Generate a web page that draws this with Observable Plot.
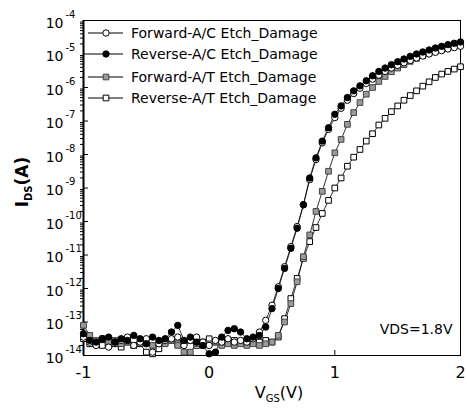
<!DOCTYPE html>
<html><head><meta charset="utf-8">
<script src="https://cdn.jsdelivr.net/npm/d3@7"></script>
<script src="https://cdn.jsdelivr.net/npm/@observablehq/plot@0.6"></script>
<style>
body{margin:0;background:#fff;}
#chart{position:relative;width:467px;height:409px;}
</style></head><body><div id="chart"></div>
<script>
// Gate voltage (V)
const vgs = [-1,-0.95,-0.9,-0.85,-0.8,-0.75,-0.7,-0.65,-0.6,-0.55,-0.5,-0.45,-0.4,-0.35,-0.3,-0.25,-0.2,-0.15,-0.1,-0.05,
  0,0.05,0.1,0.15,0.2,0.25,0.3,0.35,0.4,0.45,0.5,0.55,0.6,0.65,0.7,0.75,0.8,0.85,0.9,0.95,
  1,1.05,1.1,1.15,1.2,1.25,1.3,1.35,1.4,1.45,1.5,1.55,1.6,1.65,1.7,1.75,1.8,1.85,1.9,1.95,2];

const seriesNames = ["Forward-A/C Etch_Damage","Reverse-A/C Etch_Damage","Forward-A/T Etch_Damage","Reverse-A/T Etch_Damage"];

// log10 of drain current I_DS (A)
const log10I_forwardAC = [-13.45,-13.6,-13.7,-13.5,-13.75,-13.6,-13.55,-13.45,-13.7,-13.6,-13.5,-13.9,-13.65,-13.55,-13.5,-13.45,-13.7,-13.55,-13.45,-13.6,
  -13.7,-13.55,-13.6,-13.5,-13.6,-13.55,-13.6,-13.5,-13.3,-12.95,-12.5,-11.95,-11.35,-10.75,-10.15,-9.5,-8.75,-8.15,-7.65,-7.25,
  -6.9,-6.62,-6.38,-6.18,-6.02,-5.88,-5.75,-5.63,-5.52,-5.42,-5.34,-5.26,-5.19,-5.12,-5.06,-5.0,-4.95,-4.9,-4.85,-4.81,-4.77];
const log10I_reverseAC = [-13.35,-13.55,-13.6,-13.5,-13.45,-13.6,-13.5,-13.55,-13.4,-13.5,-13.65,-13.45,-13.55,-13.5,-13.3,-13.1,-13.55,-13.45,-13.6,-13.7,
  -13.95,-13.9,-13.45,-13.25,-13.2,-13.3,-13.5,-13.45,-13.4,-13.15,-12.6,-12.0,-11.4,-10.8,-10.2,-9.5,-8.7,-8.1,-7.6,-7.2,
  -6.8,-6.55,-6.3,-6.1,-5.95,-5.8,-5.65,-5.52,-5.42,-5.32,-5.23,-5.15,-5.07,-5.0,-4.94,-4.88,-4.82,-4.77,-4.72,-4.68,-4.64];
const log10I_forwardAT = [-13.1,-13.4,-13.55,-13.5,-13.6,-13.55,-13.65,-13.6,-13.7,-13.6,-13.55,-13.7,-13.6,-13.65,-13.55,-13.7,-13.9,-13.9,-13.65,-13.7,
  -13.65,-13.6,-13.7,-13.65,-13.7,-13.65,-13.7,-13.65,-13.7,-13.65,-13.6,-13.4,-13.0,-12.45,-11.8,-11.05,-10.4,-9.7,-9.1,-8.5,
  -7.95,-7.55,-7.1,-6.75,-6.45,-6.2,-6.0,-5.82,-5.67,-5.53,-5.42,-5.32,-5.22,-5.13,-5.05,-4.98,-4.92,-4.86,-4.81,-4.76,-4.72];
const log10I_reverseAT = [-13.5,-13.65,-13.6,-13.7,-13.55,-13.65,-13.75,-13.6,-13.7,-13.65,-13.9,-13.95,-13.8,-13.6,-13.55,-13.65,-13.6,-13.55,-13.7,-13.6,
  -13.5,-13.6,-13.55,-13.6,-13.55,-13.6,-13.65,-13.5,-13.6,-13.55,-13.6,-13.45,-12.9,-12.3,-11.7,-11.1,-10.6,-10.18,-9.76,-9.37,
  -9.0,-8.7,-8.35,-8.08,-7.85,-7.6,-7.38,-7.12,-6.92,-6.72,-6.55,-6.38,-6.24,-6.1,-5.96,-5.83,-5.7,-5.6,-5.52,-5.45,-5.38];

const yTickExponents = [-4,-5,-6,-7,-8,-9,-10,-11,-12,-13,-14];
const xTickValues = [-1,0,1,2];
const annotationText = "VDS=1.8V";

const seriesArrays = [log10I_forwardAC, log10I_reverseAC, log10I_forwardAT, log10I_reverseAT];
const rows = [];
seriesArrays.forEach((arr, s) => arr.forEach((e, i) => rows.push({series: seriesNames[s], v: vgs[i], current: Math.pow(10, e)})));

const styles = [
  {symbol: "circle", fill: "white", stroke: "black"},
  {symbol: "circle", fill: "black", stroke: "black"},
  {symbol: "square", fill: "#9a9a9a", stroke: "#444"},
  {symbol: "square", fill: "white", stroke: "black"}
];
const font = "'DejaVu Sans', sans-serif";
const yTicks = yTickExponents.map(e => Math.pow(10, e));
const minorTicks = [];
yTickExponents.slice(1).forEach(e => { for (let m = 2; m <= 9; m++) minorTicks.push(m * Math.pow(10, e)); });

const drawOrder = [3, 2, 0, 1];
const marks = [
  Plot.frame({stroke: "black", strokeWidth: 1}),
  Plot.ruleX([-1], {stroke: "black", strokeWidth: 2}),
  Plot.axisY(minorTicks, {tickSize: 3, tickFormat: () => "", label: null}),
  Plot.axisY(yTicks, {tickSize: -5, tickFormat: () => "", label: null}),
  Plot.axisX(xTickValues, {tickSize: -5, tickFormat: () => "", label: null}),
  Plot.text(yTicks, {y: d => d, frameAnchor: "left", dx: -20, dy: 3, text: () => "10", textAnchor: "end", fontSize: 14}),
  Plot.text(yTicks, {y: d => d, frameAnchor: "left", dx: -18, dy: -6, text: d => String(Math.round(Math.log10(d))), textAnchor: "start", fontSize: 10}),
  Plot.text(xTickValues, {x: d => d, frameAnchor: "bottom", dy: 22, text: d => String(d), fontSize: 16}),
  Plot.text([annotationText], {frameAnchor: "bottom-right", dx: -8, dy: -22, textAnchor: "end", fontSize: 14})
];
drawOrder.forEach(s => {
  const data = rows.filter(r => r.series === seriesNames[s]);
  marks.push(Plot.line(data, {x: "v", y: "current", stroke: "black", strokeWidth: 0.8}));
});
drawOrder.forEach(s => {
  const data = rows.filter(r => r.series === seriesNames[s]);
  marks.push(Plot.dot(data, {x: "v", y: "current", symbol: styles[s].symbol, fill: styles[s].fill, stroke: styles[s].stroke, r: 3.2, strokeWidth: 1}));
});

const svg = Plot.plot({
  width: 467, height: 409,
  marginLeft: 83, marginRight: 7, marginTop: 20, marginBottom: 54,
  style: {fontFamily: font, background: "white", color: "black", overflow: "visible"},
  x: {domain: [-1, 2], axis: null},
  y: {type: "log", domain: [1e-14, 1e-4], axis: null},
  marks
});
document.getElementById("chart").appendChild(svg);

const root = d3.select(svg);
// axis titles with subscripts
const xt = root.append("text").attr("x", 279).attr("y", 398).attr("text-anchor", "middle")
  .attr("font-family", font).attr("font-size", 16).attr("fill", "black");
xt.append("tspan").text("V");
xt.append("tspan").attr("font-size", 10).attr("dy", 4).text("GS");
xt.append("tspan").attr("dy", -4).text("(V)");

const yt = root.append("text").attr("transform", "translate(28,182) rotate(-90)").attr("text-anchor", "middle")
  .attr("font-family", font).attr("font-size", 17).attr("font-weight", "bold").attr("fill", "black");
yt.append("tspan").text("I");
yt.append("tspan").attr("font-size", 10).attr("dy", 4).text("DS");
yt.append("tspan").attr("dy", -4).text("(A)");

// legend
const legendRows = [33, 54, 77, 98];
const lg = root.append("g").attr("font-family", font).attr("font-size", 14).attr("text-anchor", "start");
seriesNames.forEach((name, i) => {
  const y = legendRows[i];
  lg.append("line").attr("x1", 88).attr("x2", 123).attr("y1", y).attr("y2", y).attr("stroke", "black").attr("stroke-width", 1);
  const st = styles[i];
  const sym = st.symbol === "circle" ? d3.symbolCircle : d3.symbolSquare;
  lg.append("path").attr("d", d3.symbol(sym, Math.PI * 3.2 * 3.2)()).attr("transform", `translate(106,${y})`)
    .attr("fill", st.fill).attr("stroke", st.stroke);
  lg.append("text").attr("x", 131).attr("y", y + 5).attr("text-anchor", "start").attr("fill", "black").text(name);
});
</script></body></html>
